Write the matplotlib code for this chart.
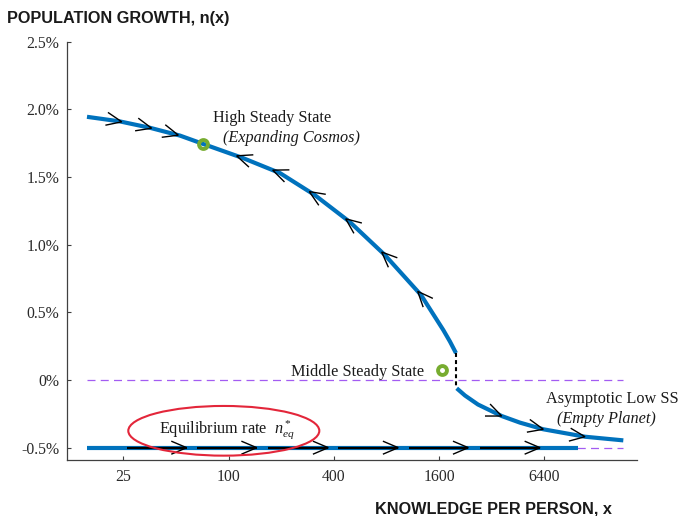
import numpy as np
import matplotlib
matplotlib.use("Agg")
import matplotlib.pyplot as plt
from matplotlib.patches import Ellipse
from matplotlib.ticker import FixedLocator, FixedFormatter, NullLocator

# ---- data -----------------------------------------------------------------
# upper branch of n(x)  (knowledge per person, growth rate in %)
upper_x = [15.5, 23.9, 35.5, 52.8, 71.4, 121, 197, 312, 495, 785, 1262, 1693, 1848, 2000]
upper_n = [1.945, 1.911, 1.864, 1.806, 1.745, 1.640, 1.529, 1.366, 1.167, 0.923, 0.628,
           0.369, 0.284, 0.199]

# lower branch of n(x)
lower_x = [2019, 2252, 2672, 3651, 4648, 6318, 10940, 18120]
lower_n = [-0.061, -0.1145, -0.181, -0.266, -0.315, -0.364, -0.419, -0.446]

# equilibrium growth rate
n_eq = -0.5
eq_x = [15.5, 10020]

# steady states
high_ss = (71.4, 1.745)
middle_ss = (1663, 0.074)

# flow arrows along each branch (x position of arrow tip, direction)
upper_arrow_x = [24.5, 36.3, 51.6, 111.3, 178.9, 289.7, 468, 751.7, 1208]
upper_arrow_dir = [1, 1, 1, -1, -1, -1, -1, -1, -1]
lower_arrow_x = [3651, 6318, 10940]
eq_seg_start = [26.2, 65.8, 169, 425, 1082, 2744]
eq_seg_tip = [57.6, 145, 372, 935, 2353, 6048]

# axes
x_ticks = [25, 100, 400, 1600, 6400]
x_ticklabels = ["25", "100", "400", "1600", "6400"]
y_ticks = [-0.5, 0, 0.5, 1.0, 1.5, 2.0, 2.5]
y_ticklabels = ["-0.5%", "0%", "0.5%", "1.0%", "1.5%", "2.0%", "2.5%"]

# ---- style ----------------------------------------------------------------
BLUE = "#0072BD"
GREEN = "#77AC30"
PURPLE = "#A35CF2"
RED = "#E3263A"
SERIF = "Liberation Serif"
SANS = "Liberation Sans"

plt.rcParams["mathtext.fontset"] = "custom"
plt.rcParams["mathtext.rm"] = "Liberation Serif"
plt.rcParams["mathtext.it"] = "Liberation Serif:italic"

W, H = 679, 516
fig = plt.figure(figsize=(W / 100, H / 100), dpi=100)
ax_l, ax_r, ax_t, ax_b = 67.3, 637.0, 41.7, 460.0
ax = fig.add_axes([ax_l / W, 1 - ax_b / H, (ax_r - ax_l) / W, (ax_b - ax_t) / H])

ax.set_xscale("log")
ax.set_xlim(11.96, 21700)
ax.set_ylim(-0.591, 2.5)

for s in ("top", "right"):
    ax.spines[s].set_visible(False)
for s in ("left", "bottom"):
    ax.spines[s].set_color("#404040")
    ax.spines[s].set_linewidth(0.9)

ax.xaxis.set_major_locator(FixedLocator(x_ticks))
ax.xaxis.set_major_formatter(FixedFormatter(x_ticklabels))
ax.xaxis.set_minor_locator(NullLocator())
ax.yaxis.set_major_locator(FixedLocator(y_ticks))
ax.yaxis.set_major_formatter(FixedFormatter(y_ticklabels))
ax.tick_params(direction="in", length=3.2, width=0.8, color="#404040",
               labelcolor="#2a2a2a", labelsize=11.3)
ax.tick_params(axis="y", pad=5.8)
ax.tick_params(axis="x", pad=6.5)
for lab in ax.get_xticklabels() + ax.get_yticklabels():
    lab.set_fontfamily(SERIF)

# reference dashed lines at 0 and at the equilibrium rate
ax.plot([upper_x[0], lower_x[-1]], [0, 0], color=PURPLE, lw=0.9,
        ls=(0, (6.4, 4.2)), zorder=1)
ax.plot([upper_x[0], lower_x[-1]], [n_eq, n_eq], color=PURPLE, lw=0.9,
        ls=(0, (6.4, 4.2)), zorder=1)

# branches
ax.plot(upper_x, upper_n, color=BLUE, lw=3, solid_capstyle="butt",
        solid_joinstyle="round", zorder=3)
ax.plot(lower_x, lower_n, color=BLUE, lw=3, solid_capstyle="butt",
        solid_joinstyle="round", zorder=3)
ax.plot(eq_x, [n_eq, n_eq], color=BLUE, lw=3, solid_capstyle="butt", zorder=3)

# jump between branches
ax.plot([upper_x[-1], upper_x[-1]], [upper_n[-1], lower_n[0]], color="black",
        lw=1.5, ls=(0, (1.9, 1.5)), zorder=4)

# steady-state markers
for sx, sy in (high_ss, middle_ss):
    ax.plot([sx], [sy], "o", ms=6.4, mew=2.8, mec=GREEN, mfc="none", zorder=6)

fig.canvas.draw()
to_disp = ax.transData.transform
to_data = ax.transData.inverted().transform


def chevron(xs, ys, xt, direction, length=16.0, half_angle=23.0):
    """Open arrowhead with its tip on the curve (xs, ys) at x = xt."""
    pts = to_disp(np.column_stack([xs, ys]))
    tx = to_disp([[xt, ys[0]]])[0, 0]
    ty = np.interp(tx, pts[:, 0], pts[:, 1])
    y0 = np.interp(tx - 3, pts[:, 0], pts[:, 1])
    y1 = np.interp(tx + 3, pts[:, 0], pts[:, 1])
    d = np.array([6.0, y1 - y0]) * direction
    d /= np.hypot(*d)
    back = -d
    wings = []
    for a in (half_angle, -half_angle):
        r = np.radians(a)
        rot = np.array([[np.cos(r), -np.sin(r)], [np.sin(r), np.cos(r)]])
        wings.append(np.array([tx, ty]) + length * rot @ back)
    path = to_data(np.array([wings[0], [tx, ty], wings[1]]))
    ax.plot(path[:, 0], path[:, 1], color="black", lw=1.0,
            solid_joinstyle="miter", zorder=5)


for xa, da in zip(upper_arrow_x, upper_arrow_dir):
    chevron(upper_x, upper_n, xa, da)
for xa in lower_arrow_x:
    chevron(lower_x, lower_n, xa, 1)
for xs0, xs1 in zip(eq_seg_start, eq_seg_tip):
    ax.plot([xs0, xs1], [n_eq, n_eq], color="black", lw=1.6,
            solid_capstyle="butt", zorder=4)
    chevron(eq_x, [n_eq, n_eq], xs1, 1)

# labels
tkw = dict(fontfamily=SERIF, fontsize=11.7, color="#1a1a1a", va="baseline")
ax.text(81.8, 1.908, "High Steady State", ha="left", **tkw)
ax.text(92.6, 1.760, "(Expanding Cosmos)", ha="left", style="italic", **tkw)
ax.text(1312, 0.0295, "Middle Steady State", ha="right", **tkw)
ax.text(6544, -0.172, "Asymptotic Low SS", ha="left", **tkw)
ax.text(7537, -0.320, "(Empty Planet)", ha="left", style="italic", **tkw)
ax.text(40.2, -0.394, r"Equilibrium rate  $n^*_{eq}$", ha="left", **tkw)

ax.add_patch(Ellipse((0.2747, 0.0698), 0.3353, 0.1188, transform=ax.transAxes,
                     fill=False, ec=RED, lw=1.5, clip_on=False, zorder=7))

fig.text(7.3 / W, 1 - 22.7 / H, "POPULATION GROWTH, n(x)", fontfamily=SANS,
         fontweight="bold", fontsize=11.7, color="#1a1a1a", va="baseline", ha="left")
fig.text(612 / W, 1 - 513.5 / H, "KNOWLEDGE PER PERSON, x", fontfamily=SANS,
         fontweight="bold", fontsize=11.7, color="#1a1a1a", va="baseline", ha="right")

fig.savefig("out.png", dpi=100)
